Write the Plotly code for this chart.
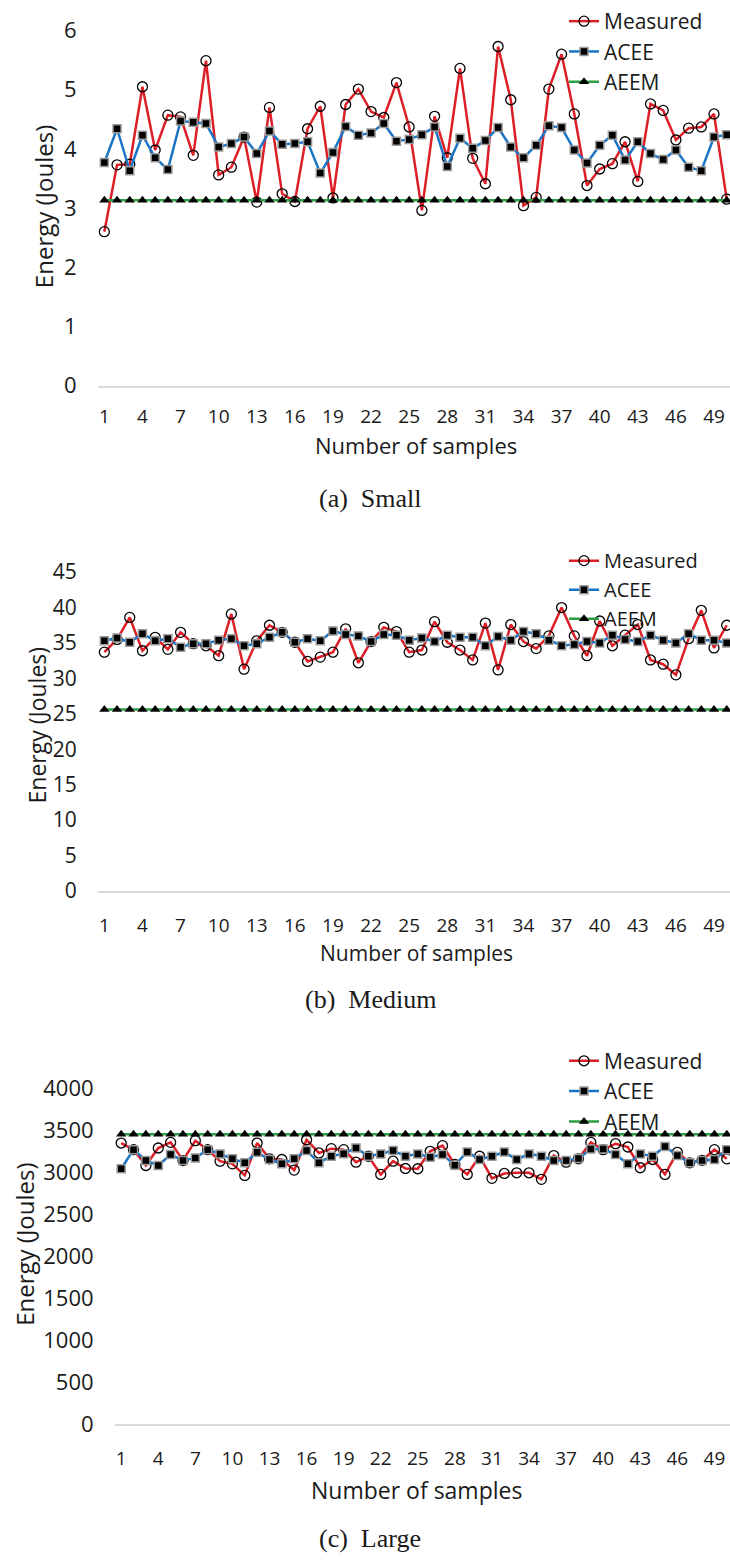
import plotly.graph_objects as go

# ---- data -------------------------------------------------------------
samples = list(range(1, 51))
x_tick_vals = [1, 4, 7, 10, 13, 16, 19, 22, 25, 28, 31, 34, 37, 40, 43, 46, 49]

small_measured = [2.60, 3.73, 3.74, 5.05, 3.98, 4.57, 4.54, 3.89, 5.49, 3.56,
                  3.69, 4.20, 3.10, 4.70, 3.24, 3.11, 4.34, 4.72, 3.17, 4.75,
                  5.01, 4.63, 4.53, 5.12, 4.37, 2.96, 4.55, 3.85, 5.36, 3.84,
                  3.41, 5.73, 4.83, 3.04, 3.18, 5.01, 5.60, 4.59, 3.38, 3.66,
                  3.75, 4.12, 3.45, 4.76, 4.65, 4.15, 4.35, 4.37, 4.59, 3.15]
small_acee = [3.77, 4.34, 3.63, 4.23, 3.85, 3.65, 4.47, 4.45, 4.43, 4.03,
              4.09, 4.20, 3.92, 4.30, 4.08, 4.09, 4.12, 3.59, 3.94, 4.38,
              4.23, 4.27, 4.43, 4.13, 4.16, 4.24, 4.37, 3.70, 4.18, 4.01,
              4.14, 4.36, 4.03, 3.85, 4.06, 4.39, 4.36, 3.98, 3.76, 4.06,
              4.23, 3.81, 4.12, 3.92, 3.82, 3.98, 3.69, 3.63, 4.20, 4.24]
small_aeem = [3.13, 3.13, 3.13, 3.13, 3.13, 3.13, 3.13, 3.13, 3.13, 3.13,
              3.13, 3.13, 3.13, 3.13, 3.13, 3.13, 3.13, 3.13, 3.13, 3.13,
              3.13, 3.13, 3.13, 3.13, 3.13, 3.13, 3.13, 3.13, 3.13, 3.13,
              3.13, 3.13, 3.13, 3.13, 3.13, 3.13, 3.13, 3.13, 3.13, 3.13,
              3.13, 3.13, 3.13, 3.13, 3.13, 3.13, 3.13, 3.13, 3.13, 3.13]

medium_measured = [33.7, 35.5, 38.6, 33.9, 35.8, 34.1, 36.5, 34.9, 34.6, 33.2,
                   39.1, 31.3, 35.3, 37.5, 36.5, 35.1, 32.4, 33.0, 33.7, 37.0,
                   32.2, 35.2, 37.2, 36.6, 33.7, 34.0, 38.0, 35.1, 34.0, 32.6,
                   37.8, 31.2, 37.6, 35.2, 34.2, 36.0, 40.0, 36.0, 33.2, 38.1,
                   34.6, 36.1, 37.6, 32.6, 32.0, 30.5, 35.6, 39.6, 34.3, 37.5]
medium_acee = [35.3, 35.7, 35.1, 36.3, 35.3, 35.6, 34.4, 34.9, 34.9, 35.4,
               35.6, 34.6, 34.9, 35.8, 36.5, 35.1, 35.6, 35.3, 36.7, 36.2,
               36.0, 35.2, 36.2, 36.1, 35.4, 35.7, 35.2, 36.1, 35.8, 35.8,
               34.6, 35.9, 35.4, 36.6, 36.3, 35.4, 34.6, 34.8, 35.2, 35.0,
               36.1, 35.5, 35.2, 36.1, 35.4, 35.0, 36.3, 35.4, 35.4, 35.0]
medium_aeem = [25.6, 25.6, 25.6, 25.6, 25.6, 25.6, 25.6, 25.6, 25.6, 25.6,
               25.6, 25.6, 25.6, 25.6, 25.6, 25.6, 25.6, 25.6, 25.6, 25.6,
               25.6, 25.6, 25.6, 25.6, 25.6, 25.6, 25.6, 25.6, 25.6, 25.6,
               25.6, 25.6, 25.6, 25.6, 25.6, 25.6, 25.6, 25.6, 25.6, 25.6,
               25.6, 25.6, 25.6, 25.6, 25.6, 25.6, 25.6, 25.6, 25.6, 25.6]

large_measured = [3345, 3266, 3078, 3286, 3353, 3137, 3373, 3266, 3129, 3098,
                  2960, 3345, 3157, 3149, 3023, 3384, 3227, 3278, 3266, 3117,
                  3188, 2972, 3129, 3042, 3039, 3247, 3314, 3090, 2972, 3188,
                  2925, 2983, 2991, 2991, 2913, 3196, 3117, 3157, 3353, 3266,
                  3337, 3298, 3051, 3149, 2972, 3235, 3110, 3140, 3266, 3157]
large_acee = [3039, 3266, 3137, 3078, 3208, 3137, 3168, 3266, 3216, 3157,
              3110, 3235, 3149, 3098, 3157, 3255, 3110, 3188, 3219, 3286,
              3188, 3216, 3255, 3188, 3216, 3176, 3208, 3082, 3239, 3149,
              3188, 3239, 3149, 3216, 3188, 3137, 3137, 3160, 3275, 3275,
              3208, 3098, 3216, 3188, 3305, 3196, 3110, 3137, 3149, 3266]
large_aeem = [3450, 3450, 3450, 3450, 3450, 3450, 3450, 3450, 3450, 3450,
              3450, 3450, 3450, 3450, 3450, 3450, 3450, 3450, 3450, 3450,
              3450, 3450, 3450, 3450, 3450, 3450, 3450, 3450, 3450, 3450,
              3450, 3450, 3450, 3450, 3450, 3450, 3450, 3450, 3450, 3450,
              3450, 3450, 3450, 3450, 3450, 3450, 3450, 3450, 3450, 3450]

small_y_ticks = [0, 1, 2, 3, 4, 5, 6]
medium_y_ticks = [0, 5, 10, 15, 20, 25, 30, 35, 40, 45]
large_y_ticks = [0, 500, 1000, 1500, 2000, 2500, 3000, 3500, 4000]

# ---- page geometry (pixels) -------------------------------------------
W, H = 730, 1568
FONT = "Open Sans"
TEXT = "#1a1a1a"
RED, BLUE, GREEN = "#DC1F26", "#1B75C4", "#2E9E44"


def px_x(p):
    return p / W


def px_y(p):
    return 1 - p / H


panels = [
    dict(meas=small_measured, acee=small_acee, aeem=small_aeem,
         ticks=small_y_ticks, left=98, top=8, bottom=389, scale=59.7,
         ytick_font=22, xtick_font=19, ytitle_font=24, xtitle_font=22,
         xticklen=13, legend_font=21, legend_top=1,
         title_x=43, title_y=209, xt_y=449, cap_y=503, caption="(a)  Small"),
    dict(meas=medium_measured, acee=medium_acee, aeem=medium_aeem,
         ticks=medium_y_ticks, left=98, top=556, bottom=899, scale=7.15,
         ytick_font=21, xtick_font=19, ytitle_font=23, xtitle_font=21,
         xticklen=16, legend_font=20, legend_top=546,
         title_x=37, title_y=732, xt_y=962, cap_y=1008, caption="(b)  Medium"),
    dict(meas=large_measured, acee=large_acee, aeem=large_aeem,
         ticks=large_y_ticks, left=115, top=1078, bottom=1437, scale=0.0848,
         ytick_font=22, xtick_font=19, ytitle_font=24, xtitle_font=23,
         xticklen=16, legend_font=21, legend_top=1050,
         title_x=25, title_y=1256, xt_y=1503, cap_y=1552, caption="(c)  Large"),
]

fig = go.Figure()
layout = dict(
    width=W, height=H,
    margin=dict(l=0, r=0, t=0, b=0),
    paper_bgcolor="white", plot_bgcolor="white",
    font=dict(family=FONT, color=TEXT),
    showlegend=True,
    annotations=[],
)

for k, p in enumerate(panels, start=1):
    sfx = "" if k == 1 else str(k)
    xa, ya, lg = "x" + sfx, "y" + sfx, "legend" + sfx

    fig.add_trace(go.Scatter(
        x=samples, y=p["meas"], name="Measured", mode="lines+markers",
        xaxis=xa, yaxis=ya, legend=lg,
        line=dict(color=RED, width=2.5),
        marker=dict(symbol="circle-open", size=10, color="black",
                    line=dict(color="black", width=1.3)),
    ))
    fig.add_trace(go.Scatter(
        x=samples, y=p["acee"], name="ACEE", mode="lines+markers",
        xaxis=xa, yaxis=ya, legend=lg,
        line=dict(color=BLUE, width=2.5),
        marker=dict(symbol="square", size=8, color="black",
                    line=dict(color="#9a9a9a", width=1.5)),
    ))
    fig.add_trace(go.Scatter(
        x=samples, y=p["aeem"], name="AEEM", mode="lines+markers",
        xaxis=xa, yaxis=ya, legend=lg,
        line=dict(color=GREEN, width=2.5),
        marker=dict(symbol="triangle-up", size=9, color="black"),
    ))

    top_val = (p["bottom"] - p["top"]) / p["scale"]
    layout["xaxis" + sfx] = dict(
        domain=[px_x(p["left"]), 1], anchor=ya,
        range=[0.5, 50.26], tickvals=x_tick_vals,
        showline=True, linecolor="#d9d9d9", linewidth=1.5,
        showgrid=False, zeroline=False,
        ticks="outside", ticklen=p["xticklen"], tickcolor="rgba(0,0,0,0)",
        tickfont=dict(size=p["xtick_font"], family=FONT, color=TEXT),
    )
    layout["yaxis" + sfx] = dict(
        domain=[px_y(p["bottom"]), px_y(p["top"])], anchor=xa,
        range=[0, top_val], tickvals=p["ticks"],
        showline=False, showgrid=False, zeroline=False,
        ticks="outside", ticklen=16, tickcolor="rgba(0,0,0,0)",
        tickfont=dict(size=p["ytick_font"], family=FONT, color=TEXT),
    )
    layout[lg] = dict(
        x=px_x(564), y=px_y(p["legend_top"]), xanchor="left", yanchor="top",
        bgcolor="rgba(0,0,0,0)", borderwidth=0,
        font=dict(size=p["legend_font"], family=FONT, color=TEXT),
        tracegroupgap=0,
    )
    layout["annotations"] += [
        dict(text="Energy (Joules)", textangle=-90, showarrow=False,
             xref="paper", yref="paper", x=px_x(p["title_x"]), y=px_y(p["title_y"]),
             xanchor="center", yanchor="middle",
             font=dict(size=p["ytitle_font"], family=FONT, color=TEXT)),
        dict(text="Number of samples", showarrow=False,
             xref="paper", yref="paper", x=px_x(416), y=px_y(p["xt_y"]),
             xanchor="center", yanchor="middle",
             font=dict(size=p["xtitle_font"], family=FONT, color=TEXT)),
        dict(text=p["caption"].replace(" ", "\u00a0"), showarrow=False,
             xref="paper", yref="paper", x=px_x(370), y=px_y(p["cap_y"]),
             xanchor="center", yanchor="middle",
             font=dict(size=26, family="Liberation Serif", color=TEXT)),
    ]

fig.update_layout(**layout)
fig.write_html("out.html")
